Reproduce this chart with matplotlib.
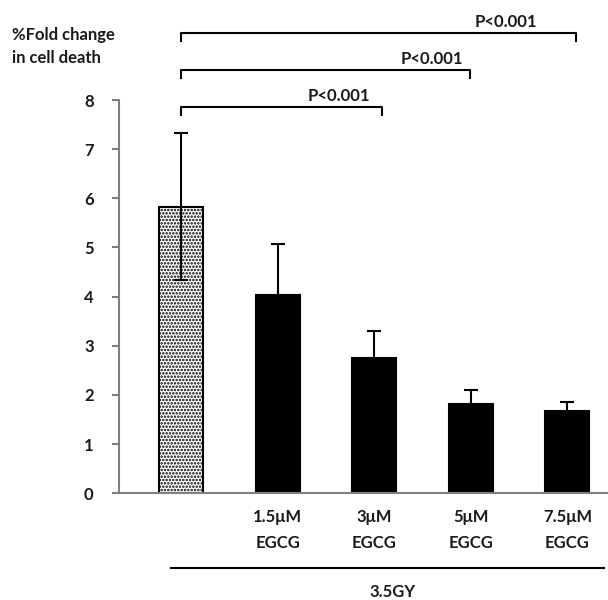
import matplotlib
matplotlib.use("Agg")
import matplotlib.pyplot as plt
import numpy as np

plt.rcParams['font.family'] = ['Lato', 'DejaVu Sans']
plt.rcParams['hatch.linewidth'] = 1.2
plt.rcParams['hatch.color'] = '#222222'

categories = ["", "1.5\u03bcM\nEGCG", "3\u03bcM\nEGCG", "5\u03bcM\nEGCG", "7.5\u03bcM\nEGCG"]
values = [5.83, 4.03, 2.76, 1.81, 1.67]
errors = [1.50, 1.04, 0.55, 0.29, 0.19]
yticks = [0, 1, 2, 3, 4, 5, 6, 7, 8]
comparisons = [(0, 2), (0, 3), (0, 4)]
p_labels = ["P<0.001", "P<0.001", "P<0.001"]
group_label = "3.5GY"
ylabel = "%Fold change\nin cell death"

FW = 'bold'
TC = '#1a1a1a'
FS = 12

fig = plt.figure(figsize=(6.08, 6.0), dpi=100)
ax = fig.add_axes([0.195, 0.178, 0.805, 0.6553])

x = np.arange(len(values))
w = 0.456
bars = ax.bar(x, values, width=w, color='black', edgecolor='black', linewidth=1.5, zorder=2)
bars[0].set_facecolor('white')
bars[0].set_hatch('.....')
ax.errorbar(x, values, yerr=errors, fmt='none', ecolor='black', elinewidth=1.5,
            capsize=5, capthick=1.5, zorder=3)

ax.set_xlim(-0.648, 4.42)
ax.set_ylim(0, 8)
ax.set_yticks(yticks)
ax.set_yticklabels([str(t) for t in yticks], fontsize=FS, fontweight=FW, color=TC)
ax.set_xticks([])
for s in ['top', 'right']:
    ax.spines[s].set_visible(False)
for s in ['left', 'bottom']:
    ax.spines[s].set_color('#808080')
    ax.spines[s].set_linewidth(1.5)
ax.tick_params(axis='y', direction='out', length=5, width=1.5, color='#808080', pad=13)

# category labels
for xi, lab in zip(x, categories):
    if lab:
        ax.text(xi, -0.33, lab, ha='center', va='top', fontsize=FS, fontweight=FW,
                color=TC, linespacing=1.75, clip_on=False)

# group line and label
ax.plot([-0.1, 4.38], [-1.52, -1.52], color='black', lw=1.5, clip_on=False)
ax.text(2.19, -2.02, group_label, ha='center', va='center', fontsize=FS, fontweight=FW,
        color=TC, clip_on=False)

# significance brackets
levels = [7.86, 8.61, 9.37]
right_off = [0.08, -0.01, 0.09]
label_x = [1.63, 2.60, 3.36]
drop = 0.17
for (i, j), lvl, ro, lx, pl in zip(comparisons, levels, right_off, label_x, p_labels):
    xr = j + ro
    ax.plot([i, i, xr, xr], [lvl - drop, lvl, lvl, lvl - drop], color='black', lw=1.5,
            clip_on=False)
    ax.text(lx, lvl + 0.06, pl, ha='center', va='bottom', fontsize=FS, fontweight=FW,
            color=TC, clip_on=False)

fig.text(0.02, 0.955, ylabel, ha='left', va='top', fontsize=FS, fontweight=FW,
         color=TC, linespacing=1.55)

fig.savefig("out.png", dpi=100)
